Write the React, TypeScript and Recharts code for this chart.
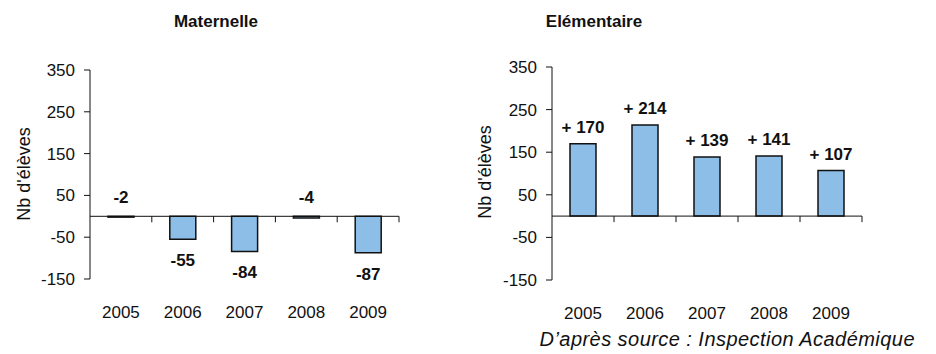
import React from "react"
import { BarChart, Bar, XAxis, YAxis, ReferenceLine, LabelList } from "recharts"

const years = ["2005", "2006", "2007", "2008", "2009"]
const maternelle = [-2, -55, -84, -4, -87]
const elementaire = [170, 214, 139, 141, 107]
const yTicks = [-150, -50, 50, 150, 250, 350]

const FONT = '"Liberation Sans", Arial, sans-serif'
const BAR_FILL = "#8DBEE8"
const INK = "#111111"

const maternelleData = years.map((year, i) => ({ year, value: maternelle[i] }))
const elementaireData = years.map((year, i) => ({ year, value: elementaire[i] }))

// axis line drawn at zero, with tick marks on category boundaries
const ZeroAxis = (props: any) => {
  const { x1, y1, x2 } = props
  const step = (x2 - x1) / years.length
  return (
    <g>
      <line x1={x1} y1={y1} x2={x2} y2={y1} stroke={INK} strokeWidth={1} />
      {years.map((_, i) => {
        const x = x1 + step * (i + 1)
        return <line key={i} x1={x} y1={y1} x2={x} y2={y1 + 6} stroke={INK} strokeWidth={1} />
      })}
    </g>
  )
}

const ValueLabel = (props: any) => {
  const { x, y, width, height, value } = props
  const top = Math.min(y, y + height)
  const bottom = Math.max(y, y + height)
  const cx = x + width / 2
  let baseline: number
  if (value >= 0) baseline = top - 11
  else if (value > -10) baseline = top - 13
  else baseline = bottom + 27
  const text = value > 0 ? `+ ${value}` : `${value}`
  return (
    <text x={cx} y={baseline} textAnchor="middle" fontSize={17} fontWeight="bold" fill={INK}>
      {text}
    </text>
  )
}

interface PanelProps {
  data: { year: string; value: number }[]
  left: number
  width: number
  margin: { top: number; right: number; bottom: number; left: number }
}

const Panel: React.FC<PanelProps> = ({ data, left, width, margin }) => (
  <div style={{ position: "absolute", left, top: 0 }}>
    <BarChart width={width} height={354} data={data} margin={margin}>
      <XAxis
        dataKey="year"
        axisLine={false}
        tickLine={false}
        tickMargin={21}
        tick={{ fontSize: 17, fill: INK }}
      />
      <YAxis
        type="number"
        domain={[-150, 350]}
        ticks={yTicks}
        interval={0}
        width={60}
        tickMargin={9}
        axisLine={{ stroke: INK }}
        tickLine={{ stroke: INK }}
        tick={{ fontSize: 17, fill: INK }}
      />
      <Bar dataKey="value" fill={BAR_FILL} stroke={INK} strokeWidth={1.5} barSize={26} isAnimationActive={false}>
        <LabelList dataKey="value" content={ValueLabel} />
      </Bar>
      <ReferenceLine y={0} shape={(p: any) => <ZeroAxis {...p} />} />
    </BarChart>
  </div>
)

export default function App() {
  return (
    <div
      style={{
        position: "absolute",
        left: 0,
        top: 0,
        width: 936,
        height: 354,
        background: "#fff",
        fontFamily: FONT,
        overflow: "hidden",
      }}
    >
      <Panel data={maternelleData} left={0} width={420} margin={{ top: 70, right: 21, bottom: 45, left: 30 }} />
      <Panel data={elementaireData} left={470} width={400} margin={{ top: 67, right: 8, bottom: 44, left: 22 }} />
      <svg width={936} height={354} style={{ position: "absolute", left: 0, top: 0, pointerEvents: "none" }}>
        <text x={216} y={27} textAnchor="middle" fontSize={17} fontWeight="bold" fill={INK}>
          Maternelle
        </text>
        <text x={594} y={27} textAnchor="middle" fontSize={17} fontWeight="bold" fill={INK}>
          Elémentaire
        </text>
        <text
          x={24}
          y={174}
          transform="rotate(-90 24 174)"
          textAnchor="middle"
          dominantBaseline="central"
          fontSize={18}
          fill={INK}
        >
          Nb d'élèves
        </text>
        <text
          x={485}
          y={172}
          transform="rotate(-90 485 172)"
          textAnchor="middle"
          dominantBaseline="central"
          fontSize={18}
          fill={INK}
        >
          Nb d'élèves
        </text>
        <text x={915} y={346} textAnchor="end" fontSize={20} letterSpacing={0.45} fontStyle="italic" fill={INK}>
          D’après source : Inspection Académique
        </text>
      </svg>
    </div>
  )
}
